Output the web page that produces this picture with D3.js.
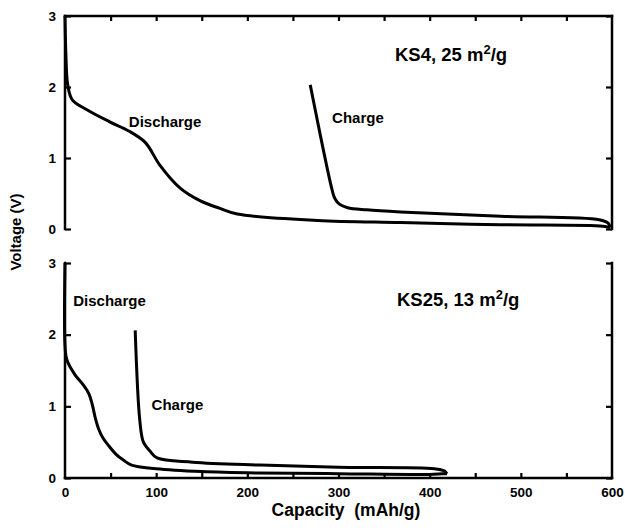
<!DOCTYPE html>
<html>
<head>
<meta charset="utf-8">
<script src="https://cdn.jsdelivr.net/npm/d3@7"></script>
<style>
  body { margin: 0; background: #fff; }
  text { font-family: "Liberation Sans", Arial, Helvetica, sans-serif; font-weight: bold; fill: #000; }
</style>
</head>
<body>
<div id="chart"></div>
<script>
// Capacity (mAh/g), voltage (V) pairs
var ks4Discharge = [[0, 3.0], [1, 2.45], [3, 2.03], [8, 1.82], [24, 1.68], [49, 1.51], [70, 1.38], [88, 1.22],
  [104, 0.9], [126, 0.58], [148, 0.4], [170, 0.29], [189, 0.21], [277, 0.12], [368, 0.09], [478, 0.06], [590, 0.04], [598, 0.02]];
var ks4Charge = [[598, 0.02], [596, 0.08], [586, 0.13], [478, 0.18], [368, 0.24], [331, 0.27], [310, 0.3],
  [301, 0.35], [296, 0.43], [293, 0.55], [269, 2.03]];
var ks25Discharge = [[0, 3.0], [0, 1.85], [2, 1.65], [11, 1.44], [20, 1.3], [26, 1.18], [30, 1.02], [33, 0.85],
  [37, 0.68], [42, 0.55], [48, 0.45], [56, 0.33], [64, 0.25], [73, 0.18], [100, 0.13], [150, 0.09], [212, 0.07],
  [300, 0.06], [400, 0.05], [414, 0.06], [419, 0.06]];
var ks25Charge = [[419, 0.06], [416, 0.1], [405, 0.13], [300, 0.15], [214, 0.18], [140, 0.22], [101, 0.28],
  [93, 0.38], [86, 0.5], [82, 0.81], [77, 2.06]];

var xTicks = [0, 100, 200, 300, 400, 500, 600];
var xMinorTicks = [50, 100, 150, 200, 250, 300, 350, 400, 450, 500, 550];
var yTicks = [0, 1, 2, 3];

var width = 625, height = 528;

var svg = d3.select("#chart").append("svg")
  .attr("width", width)
  .attr("height", height);

var x = d3.scaleLinear().domain([0, 600]).range([65, 612]);
var yTop = d3.scaleLinear().domain([0, 3]).range([229, 16]);
var yBot = d3.scaleLinear().domain([0, 3]).range([478, 263]);

function frameLine(x1, y1, x2, y2, w) {
  svg.append("line")
    .attr("x1", x1).attr("y1", y1).attr("x2", x2).attr("y2", y2)
    .attr("stroke", "#000").attr("stroke-width", w || 2.5)
    .attr("stroke-linecap", "square");
}

function styleAxis(g) {
  g.select(".domain").remove();
  g.selectAll("line").attr("stroke", "#000").attr("stroke-width", 2.2);
  g.selectAll("text").style("font-size", "13.5px").style("font-family", "'Liberation Sans', Arial, sans-serif")
    .style("font-weight", "bold").attr("fill", "#000");
}

// ---- top panel (KS4) ----
frameLine(x(0), yTop(0), x(0), yTop(3));
frameLine(x(0), yTop(3), x(600), yTop(3));
frameLine(x(600), yTop(3), x(600), yTop(0));

svg.append("g").attr("transform", `translate(${x(0)},0)`)
  .call(d3.axisLeft(yTop).tickValues(yTicks).tickFormat(d3.format("d")).tickSize(-6).tickPadding(9))
  .call(styleAxis);
svg.append("g").attr("transform", `translate(${x(600)},0)`)
  .call(d3.axisRight(yTop).tickValues(yTicks).tickFormat("").tickSize(-6))
  .call(styleAxis);
svg.append("g").attr("transform", `translate(0,${yTop(3)})`)
  .call(d3.axisTop(x).tickValues(xMinorTicks).tickFormat("").tickSize(-5))
  .call(styleAxis);

// ---- bottom panel (KS25) ----
frameLine(x(0), yBot(3), x(0), yBot(0));
frameLine(x(0), yBot(0), x(600), yBot(0));
frameLine(x(600), yBot(0), x(600), yBot(3));

svg.append("g").attr("transform", `translate(${x(0)},0)`)
  .call(d3.axisLeft(yBot).tickValues(yTicks).tickFormat(d3.format("d")).tickSize(-6).tickPadding(9))
  .call(styleAxis);
svg.append("g").attr("transform", `translate(${x(600)},0)`)
  .call(d3.axisRight(yBot).tickValues(yTicks).tickFormat("").tickSize(-6))
  .call(styleAxis);
svg.append("g").attr("transform", `translate(0,${yBot(0)})`)
  .call(d3.axisBottom(x).tickValues(xMinorTicks).tickFormat("").tickSize(-5))
  .call(styleAxis);
svg.append("g").attr("transform", `translate(0,${yBot(0)})`)
  .call(d3.axisBottom(x).tickValues(xTicks).tickFormat(d3.format("d")).tickSize(0).tickPadding(9))
  .call(styleAxis);

// ---- curves ----
function drawCurve(data, yScale) {
  var line = d3.line()
    .x(d => x(d[0]))
    .y(d => yScale(d[1]))
    .curve(d3.curveCatmullRom.alpha(0.5));
  svg.append("path")
    .datum(data)
    .attr("fill", "none")
    .attr("stroke", "#000")
    .attr("stroke-width", 3)
    .attr("stroke-linejoin", "round")
    .attr("d", line);
}
drawCurve(ks4Discharge, yTop);
drawCurve(ks4Charge, yTop);
drawCurve(ks25Discharge, yBot);
drawCurve(ks25Charge, yBot);

// ---- annotations ----
function label(txt, px, py, size) {
  svg.append("text").attr("x", px).attr("y", py).style("font-size", size + "px").text(txt);
}
label("Discharge", x(70), yTop(1.43), 15);
label("Charge", x(293), yTop(1.5), 15);
label("Discharge", x(9), yBot(2.4), 15);
label("Charge", x(95), yBot(0.95), 15);

function title(prefix, px, py) {
  var t = svg.append("text").attr("x", px).attr("y", py).style("font-size", "18.5px");
  t.append("tspan").text(prefix + " m");
  t.append("tspan").attr("dy", -7).style("font-size", "13px").text("2");
  t.append("tspan").attr("dy", 7).text("/g");
}
title("KS4, 25", 395, 61);
title("KS25, 13", 397, 306);

// axis titles
svg.append("text")
  .attr("transform", "rotate(-90)")
  .attr("x", -232)
  .attr("y", 21)
  .attr("text-anchor", "middle")
  .style("font-size", "15px")
  .text("Voltage (V)");

svg.append("text")
  .attr("x", 346)
  .attr("y", 516)
  .attr("text-anchor", "middle")
  .style("font-size", "17.5px")
  .style("white-space", "pre")
  .attr("xml:space", "preserve")
  .text("Capacity  (mAh/g)");
</script>
</body>
</html>
